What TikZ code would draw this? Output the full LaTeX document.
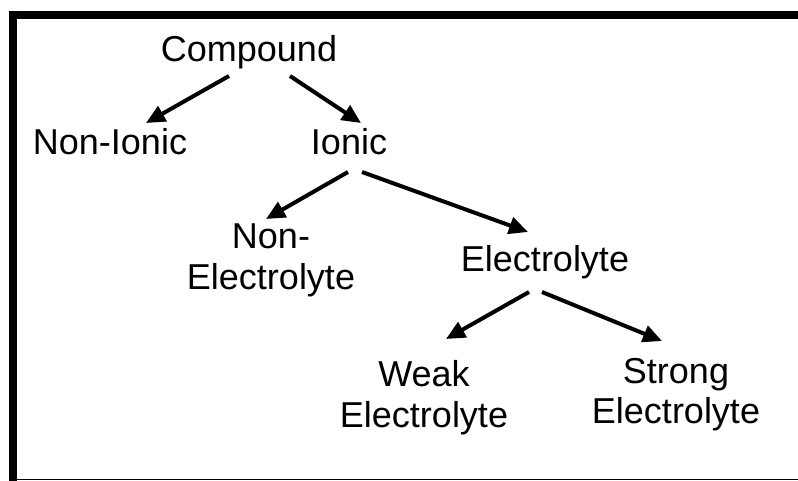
\documentclass[tikz,border=0pt]{standalone}
\usepackage{fontspec}
\setmainfont{Liberation Sans}
\usetikzlibrary{arrows.meta}
\begin{document}
\begin{tikzpicture}[x=1pt,y=-1pt,
  lbl/.style={anchor=base,align=center,inner sep=0pt,font=\fontsize{36}{41}\selectfont},
  arr/.style={line width=4pt,-{Triangle[length=19pt,width=17pt]}},
  frame/.style={line width=8.5pt}]
\useasboundingbox (0,0) rectangle (798,481);
\fill[white] (0,0) rectangle (798,481);
% frame
\draw[frame] (13,15.25) -- (798,15.25);
\draw[frame] (13,11) -- (13,481);
\draw[line width=1.5pt] (13,479.5) -- (798,479.5);
% nodes
\node[lbl] (comp) at (249,62) {Compound};
\node[lbl] (nonionic) at (110,155) {Non-Ionic};
\node[lbl] (ionic) at (349,155) {Ionic};
\node[lbl,font=\fontsize{36}{40}\selectfont] (nonelec) at (271,289) {Non-\\Electrolyte};
\node[lbl] (elec) at (545,271) {Electrolyte};
\node[lbl] (weak) at (424,427) {Weak\\Electrolyte};
\node[lbl,font=\fontsize{36}{40}\selectfont] (strong) at (676,423) {Strong\\Electrolyte};
% connectors
\draw[arr] ([shift={(-20,14)}]comp.base) -- ([shift={(36,-32)}]nonionic.base);
\draw[arr] ([shift={(41,14)}]comp.base) -- ([shift={(12,-32)}]ionic.base);
\draw[arr] ([shift={(-1,17)}]ionic.base) -- ([shift={(-5,-70)}]nonelec.base);
\draw[arr] ([shift={(13,17)}]ionic.base) -- ([shift={(-17,-39)}]elec.base);
\draw[arr] ([shift={(-16,21)}]elec.base) -- ([shift={(22,-88)}]weak.base);
\draw[arr] ([shift={(-3,21)}]elec.base) -- ([shift={(-14,-82)}]strong.base);
\end{tikzpicture}
\end{document}
